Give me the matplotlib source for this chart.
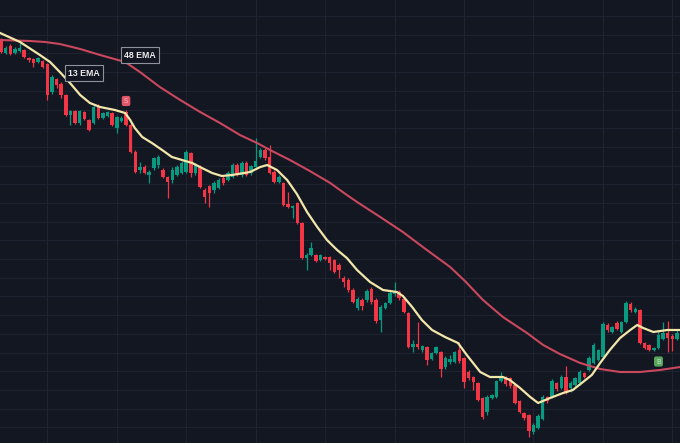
import numpy as np
import matplotlib.pyplot as plt

# candle data (price units)
opens = [460, 447, 454, 447, 449, 450, 442, 441, 438, 439,
         436, 408, 421, 416, 405, 385, 389, 377, 388, 380,
         377, 394, 382, 384, 387, 372, 379, 388, 375, 348,
         330, 333, 325, 332, 335, 330, 323, 320, 325, 327,
         328, 347, 327, 333, 310, 314, 310, 312, 322, 320,
         323, 335, 325, 337, 327, 333, 343, 350, 343, 328,
         318, 317, 296, 292, 297, 277, 242, 245, 245, 240,
         243, 243, 240, 235, 222, 220, 210, 192, 200, 200,
         211, 200, 180, 192, 197, 206, 208, 201, 187, 153,
         156, 150, 153, 141, 147, 148, 133, 138, 138, 150,
         142, 128, 123, 117, 102, 88, 102, 103, 119, 123,
         122, 115, 99, 87, 85, 68, 72, 81, 103, 103,
         117, 112, 123, 112, 115, 117, 127, 130, 137, 140,
         143, 175, 168, 177, 168, 178, 196, 188, 190, 157,
         155, 150, 152, 161, 167, 164, 161]
closes = [448, 452, 446, 451, 452, 443, 440, 437, 442, 433,
          405, 423, 415, 405, 385, 389, 377, 389, 381, 370,
          393, 382, 387, 388, 375, 383, 382, 375, 348, 328,
          333, 327, 328, 342, 343, 323, 318, 330, 333, 337,
          348, 327, 335, 313, 303, 307, 317, 320, 317, 327,
          335, 325, 337, 325, 334, 339, 350, 342, 327, 318,
          323, 295, 293, 294, 277, 242, 245, 252, 239, 245,
          241, 237, 228, 230, 218, 210, 198, 201, 194, 209,
          198, 179, 193, 197, 207, 209, 202, 188, 153, 156,
          153, 154, 140, 147, 153, 131, 142, 141, 148, 139,
          118, 122, 118, 100, 83, 103, 105, 119, 124, 116,
          114, 97, 88, 82, 69, 75, 84, 103, 99, 119,
          111, 123, 107, 117, 122, 128, 123, 142, 155, 150,
          176, 170, 173, 171, 178, 197, 190, 191, 157, 152,
          150, 152, 165, 167, 162, 161, 167]
highs = [462, 454, 456, 453, 457, 451, 443, 442, 443, 440,
         437, 425, 422, 418, 406, 390, 390, 390, 389, 381,
         395, 396, 388, 389, 388, 384, 384, 390, 377, 350,
         338, 335, 330, 343, 345, 332, 324, 333, 335, 339,
         350, 348, 337, 335, 312, 315, 319, 322, 324, 329,
         337, 337, 339, 339, 335, 362, 352, 352, 355, 330,
         325, 318, 308, 295, 298, 278, 247, 258, 246, 246,
         244, 244, 241, 237, 224, 222, 212, 203, 202, 211,
         213, 202, 195, 198, 209, 218, 210, 203, 188, 160,
         178, 155, 154, 148, 154, 149, 144, 145, 149, 158,
         143, 130, 124, 118, 103, 105, 106, 120, 128, 124,
         123, 116, 100, 88, 86, 77, 86, 105, 104, 121,
         118, 125, 134, 119, 123, 130, 128, 144, 157, 151,
         178, 177, 174, 179, 179, 199, 198, 193, 191, 158,
         156, 153, 170, 178, 179, 166, 170]
lows = [447, 446, 445, 446, 448, 442, 438, 433, 437, 432,
        400, 406, 412, 402, 384, 375, 376, 375, 380, 369,
        376, 381, 381, 383, 374, 367, 378, 374, 347, 327,
        327, 326, 317, 330, 332, 322, 302, 317, 324, 326,
        327, 323, 325, 312, 297, 293, 307, 311, 315, 319,
        322, 324, 323, 324, 325, 332, 342, 340, 326, 317,
        317, 294, 292, 282, 276, 241, 230, 244, 238, 239,
        240, 230, 227, 222, 213, 208, 197, 190, 190, 198,
        196, 177, 168, 191, 196, 204, 200, 187, 152, 148,
        151, 148, 135, 140, 146, 123, 131, 136, 137, 137,
        112, 120, 110, 99, 81, 85, 101, 102, 118, 114,
        112, 96, 87, 80, 63, 66, 71, 80, 97, 102,
        109, 111, 106, 108, 114, 115, 122, 129, 136, 139,
        142, 168, 167, 170, 167, 177, 188, 187, 156, 151,
        149, 149, 151, 160, 148, 149, 160]

# moving averages (x = bar number)
ema13_t = [-0.2, 4.1, 8.4, 10.6, 12.7, 14.9, 17.1, 19.2, 21.4, 24.6,
           26.8, 27.9, 28.9, 30.5, 32.6, 34.8, 36.9, 39.1, 41.3, 43.4,
           45.6, 47.7, 49.9, 53.8, 56.0, 57.5, 59.6, 61.8, 63.9, 66.1,
           68.3, 70.4, 72.6, 74.7, 76.9, 79.7, 82.5, 85.5, 86.8, 88.8,
           90.9, 93.1, 95.9, 98.7, 100.6, 103.5, 105.6, 108.4, 109.9, 112.1,
           114.3, 116.0, 118.6, 121.4, 123.5, 125.7, 127.6, 129.4, 131.5, 133.7,
           135.9, 137.4, 138.7, 140.9, 143.9, 146.7]
ema13 = [467, 458, 445, 438, 428, 417, 405, 397, 393, 390,
         387, 380, 372, 363, 357, 350, 343, 340, 337, 332,
         327, 324, 325, 328, 333, 335, 330, 320, 306, 288,
         273, 260, 250, 242, 230, 218, 210, 208, 204, 193,
         180, 170, 163, 157, 145, 128, 123, 123, 120, 112,
         103, 97, 102, 107, 110, 118, 125, 137, 150, 162,
         170, 175, 172, 168, 170, 170]
ema48_t = [-0.2, 6.3, 9.5, 12.7, 17.1, 21.4, 26.8, 30.0, 34.3, 38.7,
           43.0, 47.3, 51.6, 55.3, 58.1, 62.4, 66.7, 71.1, 74.7, 76.9,
           81.9, 86.8, 91.1, 97.0, 100.2, 104.1, 108.4, 113.6, 117.1, 120.7,
           125.1, 129.4, 133.7, 138.0, 142.3, 146.7]
ema48 = [460, 459, 458, 456, 451, 445, 438, 428, 413, 400,
         388, 377, 365, 357, 350, 340, 329, 317, 305, 298,
         283, 268, 253, 233, 219, 200, 183, 167, 155, 146,
         137, 131, 128, 128, 130, 133]

bg = '#131722'
up_col = '#089981'
dn_col = '#f23645'

fig = plt.figure(figsize=(6.8, 4.43), dpi=100)
fig.patch.set_facecolor(bg)
ax = fig.add_axes([0, 0, 1, 1])
ax.set_facecolor(bg)

o = np.array(opens)
c = np.array(closes)
idx = np.arange(len(o))
cols = np.where(c >= o, up_col, dn_col)

ax.vlines(idx, lows, highs, colors=cols, lw=0.9, zorder=2)
ax.bar(idx, np.maximum(np.abs(c - o), 1.2), 0.75, np.minimum(o, c),
       color=cols, lw=0, zorder=3)

ax.plot(ema48_t, ema48, color='#c9485d', lw=1.5, zorder=4)
ax.plot(ema13_t, ema13, color='#f2e6a9', lw=1.6, zorder=5)

# line labels
lab = dict(ha='center', va='center', fontsize=6.3, color='#ececec', weight='bold',
           family=['Liberation Sans', 'DejaVu Sans'], zorder=6,
           bbox=dict(boxstyle='square,pad=0.35', fc=bg, ec='#8e929c', lw=0.8))
ax.text(30.0, 445, '48 EMA', **lab)
ax.text(18.0, 427, '13 EMA', **lab)

# signal markers
mk = dict(ha='center', va='center', fontsize=5, zorder=6)
ax.text(27, 399, 'S', color='#ffb3bb', **mk,
        bbox=dict(boxstyle='round,pad=0.3,rounding_size=0.3', fc='#e2566a', ec='none'))
ax.text(142, 138.5, 'B', color='#b9e6b9', **mk,
        bbox=dict(boxstyle='round,pad=0.3,rounding_size=0.3', fc='#5aa55e', ec='none'))

ax.set_xlim(-0.22, 146.65)
ax.set_ylim(57, 500)
ax.set_xticks(np.arange(10, 147, 15))
ax.set_yticks(np.arange(484, 57, -18.7))
ax.grid(True, color='#1f2331', lw=0.8, zorder=0)
ax.tick_params(length=0, labelleft=False, labelbottom=False)
for s in ax.spines.values():
    s.set_visible(False)

fig.savefig('out.png', dpi=100, facecolor=bg)
